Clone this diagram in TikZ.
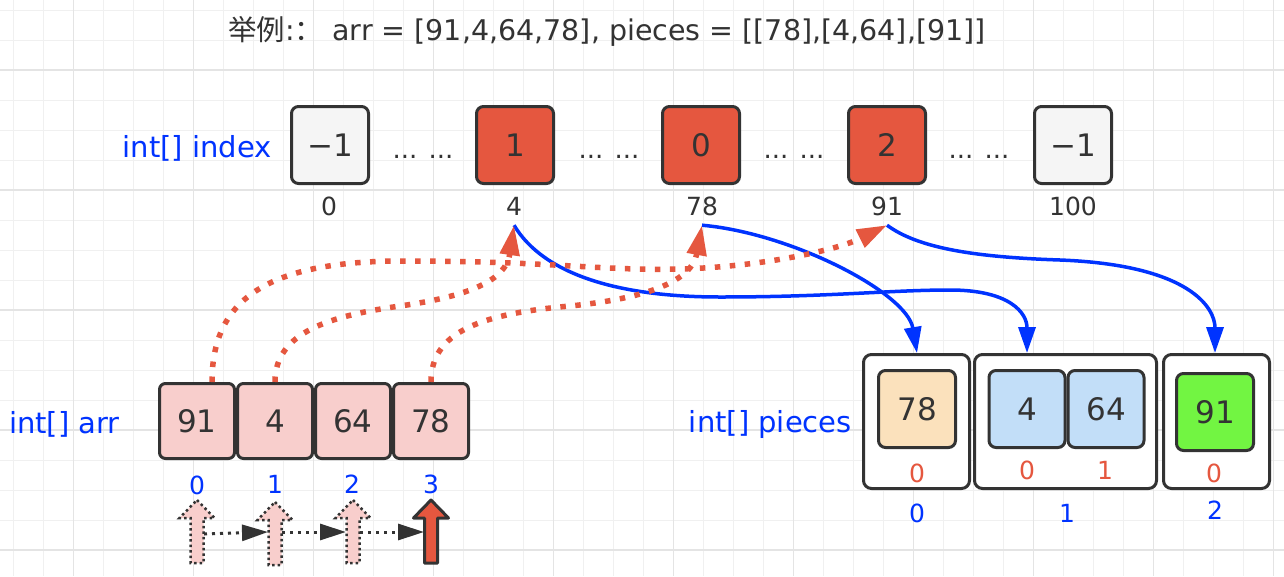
\documentclass[tikz,border=0pt]{standalone}
\usepackage{fontspec}
\setmainfont{DejaVu Sans}
\newfontfamily\cjk{Noto Sans CJK SC}
\usetikzlibrary{arrows.meta,calc}
\definecolor{ink}{HTML}{333333}
\definecolor{myred}{HTML}{E5573F}
\definecolor{myblue}{RGB}{0,51,255}
\definecolor{pinkfill}{HTML}{F8CECC}
\definecolor{grayfill}{HTML}{F5F5F5}
\definecolor{orangefill}{HTML}{FBE1BC}
\definecolor{bluefill}{HTML}{C2DEF8}
\definecolor{greenfill}{HTML}{72F542}
\definecolor{gridminor}{HTML}{F0F0F0}
\definecolor{gridmajor}{HTML}{E4E4E4}
\begin{document}
\begin{tikzpicture}[x=1pt,y=-1pt,
  cellbox/.style={draw=ink,line width=3pt,rounded corners=7pt,inner sep=0pt,text=ink,
    font=\fontsize{31}{36}\selectfont},
  idxcell/.style={cellbox,minimum width=77pt,minimum height=77pt},
  arrcell/.style={cellbox,fill=pinkfill,minimum width=75pt,minimum height=75pt,rounded corners=6pt},
  outerbox/.style={draw=ink,line width=3pt,rounded corners=8pt,fill=white,minimum height=134pt,inner sep=0pt},
  innerbox/.style={cellbox,minimum width=77pt,minimum height=77pt},
  numlbl/.style={text=ink,inner sep=0pt,font=\fontsize{25}{30}\selectfont,text height=18pt,text depth=0pt,minimum height=38pt},
  bluelbl/.style={text=myblue,inner sep=0pt,font=\fontsize{25}{30}\selectfont},
  redlbl/.style={text=myred,inner sep=0pt,font=\fontsize{25}{30}\selectfont},
  namelbl/.style={text=myblue,inner sep=0pt,font=\fontsize{29}{34}\selectfont},
  dotslbl/.style={text=ink,inner sep=0pt,font=\fontsize{26}{30}\selectfont},
  reddot/.style={draw=myred,line width=5.5pt,dash pattern=on 5.5pt off 9.5pt,-{Triangle[length=30pt,width=19pt]}},
  blueline/.style={draw=myblue,line width=3.5pt,-{Triangle[length=26pt,width=17pt]}},
  blackdot/.style={draw=ink,line width=3pt,dash pattern=on 3pt off 5pt,-{Triangle[length=26pt,width=16pt]}},
  ptrpic/.pic={\path[pic actions] (0,0) -- (17.5,18) -- (6.5,18) -- (6.5,63) -- (-6.5,63) -- (-6.5,18) -- (-17.5,18) -- cycle;}
]
% background and grid
\useasboundingbox (0,0) rectangle (1284,576);
\fill[white] (0,0) rectangle (1284,576);
\foreach \i in {0,...,42} {\draw[gridminor,line width=1pt] ({13.33+30*\i},0) -- ++(0,576);}
\foreach \i in {0,...,18} {\draw[gridminor,line width=1pt] (0,{10+30*\i}) -- ++(1284,0);}
\foreach \i in {0,...,10} {\draw[gridmajor,line width=1.5pt] ({73.33+120*\i},0) -- ++(0,576);}
\foreach \i in {0,...,4} {\draw[gridmajor,line width=1.5pt] (0,{70+120*\i}) -- ++(1284,0);}

% title
\node[anchor=base west,inner sep=0pt,text=ink,font=\fontsize{28.5}{34}\selectfont] (title) at (228,40)
  {{\cjk 举例}:{\cjk ：} arr = [91,4,64,78], pieces = [[78],[4,64],[91]]};

% index row
\node[namelbl,anchor=east] (idxname) at (272,148) {int[] index};
\node[idxcell,fill=grayfill] (i0) at (330,145) {−1};
\node[idxcell,fill=myred] (i4) at (515,145) {1};
\node[idxcell,fill=myred] (i78) at (701,145) {0};
\node[idxcell,fill=myred] (i91) at (887,145) {2};
\node[idxcell,fill=grayfill] (i100) at (1073,145) {−1};
\node[dotslbl,anchor=base] (d1) at (423,158) {... ...};
\node[dotslbl,anchor=base] (d2) at (609,158) {... ...};
\node[dotslbl,anchor=base] (d3) at (794,158) {... ...};
\node[dotslbl,anchor=base] (d4) at (979,158) {... ...};
\node[numlbl] (l0) at (329,206) {0};
\node[numlbl] (l4) at (514,206) {4};
\node[numlbl] (l78) at (702,206) {78};
\node[numlbl] (l91) at (887,206) {91};
\node[numlbl] (l100) at (1073,206) {100};

% arr row
\node[namelbl,anchor=east] (arrname) at (120,424) {int[] arr};
\node[arrcell] (a0) at (197,421) {91};
\node[arrcell] (a1) at (275,421) {4};
\node[arrcell] (a2) at (353,421) {64};
\node[arrcell] (a3) at (431,421) {78};
\node[bluelbl] (b0) at (197,485) {0};
\node[bluelbl] (b1) at (275,484) {1};
\node[bluelbl] (b2) at (352,484) {2};
\node[bluelbl] (b3) at (431,484) {3};

% pointers
\pic[draw=ink,fill=pinkfill,line width=2.5pt,dash pattern=on 2.5pt off 3pt] at (197,500) {ptrpic};
\pic[draw=ink,fill=pinkfill,line width=2.5pt,dash pattern=on 2.5pt off 3pt] at (275,502) {ptrpic};
\pic[draw=ink,fill=pinkfill,line width=2.5pt,dash pattern=on 2.5pt off 3pt] at (353,500) {ptrpic};
\pic[draw=ink,fill=myred,line width=3pt,line join=round] at (431,500) {ptrpic};
\coordinate (q0) at (197,534);
\coordinate (q1) at (275,532);
\coordinate (q2) at (353,532);
\coordinate (q3) at (431,532);
\draw[blackdot] ([xshift=7pt]q0) -- ([xshift=-7pt]q1);
\draw[blackdot] ([xshift=7pt]q1) -- ([xshift=-7pt]q2);
\draw[blackdot] ([xshift=7pt]q2) -- ([xshift=-7pt]q3);

% pieces
\node[namelbl,anchor=east] (pcname) at (852,424) {int[] pieces};
\node[outerbox,minimum width=106pt] (p0) at (916.5,421.5) {};
\node[outerbox,minimum width=182pt] (p1) at (1065.5,421.5) {};
\node[outerbox,minimum width=106pt] (p2) at (1216.5,421.5) {};
\node[innerbox,fill=orangefill] (in78) at (917,409) {78};
\node[innerbox,fill=bluefill,minimum width=76pt] (in4) at (1027,409) {4};
\node[innerbox,fill=bluefill,minimum width=76pt] (in64) at (1106,409) {64};
\node[innerbox,fill=greenfill] (in91) at (1215,412) {91};
\node[redlbl] (r0) at (917,473) {0};
\node[redlbl] (r1) at (1027,470) {0};
\node[redlbl] (r2) at (1105,470) {1};
\node[redlbl] (r3) at (1214,473) {0};
\node[bluelbl] (c0) at (917,513) {0};
\node[bluelbl] (c1) at (1067,513) {1};
\node[bluelbl] (c2) at (1215,510) {2};

% blue connectors
\draw[blueline] (l4.south) .. controls +(30,50) and +(-100,0) .. (720,297)
  .. controls +(110,0) and +(-60,0) .. (950,290)
  .. controls +(60,0) and +(0,-40) .. (in4.center |- p1.north);
\draw[blueline] (l78.south) .. controls +(90,8) and +(-10,-60) .. (in78.center |- p0.north);
\draw[blueline] (l91.south) .. controls +(30,22) and +(-90,-3) .. (1060,260)
  .. controls +(130,5) and +(0,-45) .. (in91.center |- p2.north);

% red dotted connectors
\draw[reddot] ([xshift=15pt]a0.north) .. controls +(0,-80) and +(-140,0) .. (403,261)
  .. controls +(150,0) and +(-80,2) .. (680,269)
  .. controls +(80,-2) and +(-50,25) .. (l91.south);
\draw[reddot] (a1.north) .. controls +(0,-50) and +(-70,10) .. (400,306)
  .. controls +(70,-10) and +(-8,55) .. (l4.south);
\draw[reddot] (a3.north) .. controls +(0,-50) and +(-90,8) .. (570,306)
  .. controls +(80,-8) and +(-10,55) .. (l78.south);
\end{tikzpicture}
\end{document}
